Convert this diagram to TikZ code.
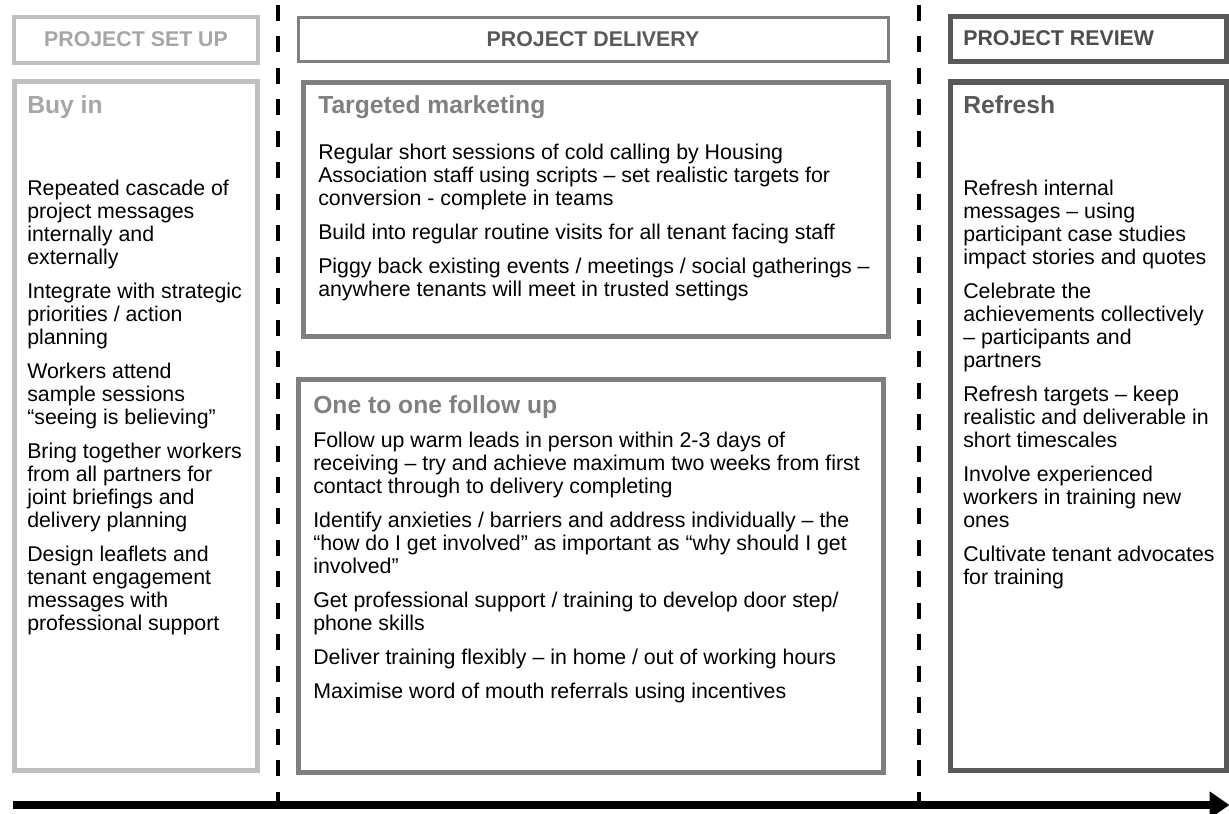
\documentclass[tikz,border=0pt]{standalone}
\usepackage{fontspec}
\setmainfont{Liberation Sans}
\usetikzlibrary{arrows.meta}
\definecolor{cSet}{HTML}{BFBFBF}
\definecolor{cSetTxt}{HTML}{A6A6A6}
\definecolor{cDel}{HTML}{808080}
\definecolor{cDelTxt}{HTML}{595959}
\definecolor{cRev}{HTML}{595959}
\definecolor{cRevTxt}{HTML}{4D4D4D}
\newcommand\bodyfont{\fontsize{16}{17.25}\selectfont}
\newcommand\headfont{\fontsize{18.5}{21}\selectfont\bfseries}
\newcommand\phasefont{\fontsize{16}{18}\selectfont\bfseries}
\newcommand\pgap{\\[8.25pt]}
\newenvironment{lines}{\begin{tabular}[t]{@{}l@{}}}{\end{tabular}}
\tikzset{
  box/.style={draw, inner sep=0pt, outer sep=0pt, anchor=north west},
  phasetxt/.style={inner sep=0pt, font=\phasefont},
  headtxt/.style={inner sep=0pt, anchor=base west, font=\headfont},
  bodytxt/.style={inner sep=0pt, anchor=base west, font=\bodyfont, text=black},
  divider/.style={line width=2.6pt, dash pattern=on 12pt off 11.6pt, black},
  timeline/.style={line width=6pt, black, -{Triangle[length=15pt,width=19.5pt]}}
}
\begin{document}
\begin{tikzpicture}[x=0.75pt,y=-0.75pt]
\useasboundingbox (0,0) rectangle (1229,814);
\fill[white] (0,0) rectangle (1229,814);

% phase header boxes
\node[box, draw=cSet, line width=3pt, minimum width=244*0.75pt, minimum height=46.5*0.75pt] (hset) at (14,16.5) {};
\node[box, draw=cDel, line width=2.25pt, minimum width=589.5*0.75pt, minimum height=44.2*0.75pt] (hdel) at (298.5,17.5) {};
\node[box, draw=cRev, line width=3.75pt, minimum width=276*0.75pt, minimum height=45.7*0.75pt] (hrev) at (950.5,16) {};
\node[phasetxt, anchor=base, text=cSetTxt] (tset) at (136,46) {PROJECT SET UP};
\node[phasetxt, anchor=base, text=cDelTxt] (tdel) at (593,46) {PROJECT DELIVERY};
\node[phasetxt, anchor=base west, text=cRevTxt] (trev) at (963,45) {PROJECT REVIEW};

% content boxes
\node[box, draw=cSet, line width=3.4pt, minimum width=243.2*0.75pt, minimum height=689*0.75pt] (buyin) at (14.3,81.5) {};
\node[box, draw=cDel, line width=3.75pt, minimum width=585*0.75pt, minimum height=254*0.75pt] (market) at (303.5,82.5) {};
\node[box, draw=cDel, line width=3.75pt, minimum width=585*0.75pt, minimum height=393*0.75pt] (onetoone) at (298.5,379.5) {};
\node[box, draw=cRev, line width=4.1pt, minimum width=276*0.75pt, minimum height=688.5*0.75pt] (refresh) at (950.5,82) {};

% headings
\node[headtxt, text=cSetTxt] (hbuy) at (27,113) {Buy in};
\node[headtxt, text=cDel] (hmarket) at (318,113) {Targeted marketing};
\node[headtxt, text=cDel] (hone) at (313,413) {One to one follow up};
\node[headtxt, text=cRev] (hrefresh) at (963,113) {Refresh};

% body texts
\node[bodytxt] (bbuy) at (27,195) {\begin{lines}Repeated cascade of\\project messages\\internally and\\externally\pgap
Integrate with strategic\\priorities / action\\planning\pgap
Workers attend\\sample sessions\\“seeing is believing”\pgap
Bring together workers\\from all partners for\\joint briefings and\\delivery planning\pgap
Design leaflets and\\tenant engagement\\messages with\\professional support\end{lines}};

\node[bodytxt] (bmarket) at (318,159) {\begin{lines}Regular short sessions of cold calling by Housing\\Association staff using scripts – set realistic targets for\\conversion - complete in teams\pgap
Build into regular routine visits for all tenant facing staff\pgap
Piggy back existing events / meetings / social gatherings –\\anywhere tenants will meet in trusted settings\end{lines}};

\node[bodytxt] (bone) at (313,447) {\begin{lines}Follow up warm leads in person within 2-3 days of\\receiving – try and achieve maximum two weeks from first\\contact through to delivery completing\pgap
Identify anxieties / barriers and address individually – the\\“how do I get involved” as important as “why should I get\\involved”\pgap
Get professional support / training to develop door step/\\phone skills\pgap
Deliver training flexibly – in home / out of working hours\pgap
Maximise word of mouth referrals using incentives\end{lines}};

\node[bodytxt] (brefresh) at (963,195) {\begin{lines}Refresh internal\\messages – using\\participant case studies\\impact stories and quotes\pgap
Celebrate the\\achievements collectively\\– participants and\\partners\pgap
Refresh targets – keep\\realistic and deliverable in\\short timescales\pgap
Involve experienced\\workers in training new\\ones\pgap
Cultivate tenant advocates\\for training\end{lines}};

% dividers
\coordinate (d1t) at (278,5);
\coordinate (d1b) at (278,801);
\coordinate (d2t) at (919,5);
\coordinate (d2b) at (919,801);
\draw[divider] (d1t) -- (d1b);
\draw[divider] (d2t) -- (d2b);

% timeline
\coordinate (t0) at (13,805);
\coordinate (t1) at (1229.5,805);
\draw[timeline] (t0) -- (t1);
\end{tikzpicture}
\end{document}
